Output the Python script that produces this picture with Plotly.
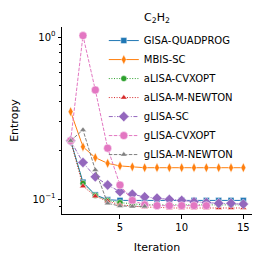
import plotly.graph_objects as go

iterations = list(range(1, 16))

gisa_quadprog = [0.229, 0.127, 0.106, 0.099, 0.098, 0.098, 0.098, 0.098, 0.098, 0.098, 0.098, 0.098, 0.098, 0.098, 0.098]
mbis_sc = [0.346, 0.210, 0.180, 0.166, 0.160, 0.158, 0.156, 0.156, 0.156, 0.156, 0.156, 0.156, 0.156, 0.156, 0.156]
alisa_cvxopt = [0.229, 0.125, 0.105, 0.098, 0.095, 0.093, 0.092, 0.092, 0.092, 0.092, 0.092, 0.092, 0.092, 0.092, 0.092]
alisa_m_newton = [0.229, 0.120, 0.104, 0.097, 0.092, 0.090, 0.089, 0.089, 0.088, 0.088, 0.088, 0.088, 0.088, 0.088, 0.088]
glisa_sc = [0.229, 0.168, 0.137, 0.122, 0.111, 0.107, 0.103, 0.101, 0.0994, 0.098, 0.096, 0.095, 0.094, 0.094, 0.093]
glisa_cvxopt = [0.229, 1.02, 0.471, 0.206, 0.122, 0.098, 0.092, 0.091, 0.091, 0.091, 0.091, 0.091]
glisa_m_newton = [0.229, 0.267, 0.151, 0.094, 0.0905, 0.090, 0.090]

series = [
    ("GISA-QUADPROG", gisa_quadprog, "#1f77b4", "square", "solid", 6),
    ("MBIS-SC", mbis_sc, "#ff7f0e", "diamond-tall", "solid", 7),
    ("aLISA-CVXOPT", alisa_cvxopt, "#2ca02c", "circle", "1px,1.6px", 6),
    ("aLISA-M-NEWTON", alisa_m_newton, "#d62728", "triangle-up", "1px,1.6px", 6),
    ("gLISA-SC", glisa_sc, "#9467bd", "diamond", "4px,1.6px,1px,1.6px", 8),
    ("gLISA-CVXOPT", glisa_cvxopt, "#e377c2", "circle", "3.5px,1.5px", 8),
    ("gLISA-M-NEWTON", glisa_m_newton, "#7f7f7f", "triangle-up", "3.5px,1.5px", 6),
]

fig = go.Figure()
for name, vals, color, sym, dash, size in series:
    fig.add_trace(go.Scatter(
        x=iterations[:len(vals)], y=vals, name=name, mode="lines+markers",
        line=dict(color=color, width=1, dash=dash),
        marker=dict(symbol=sym, size=size, color=color,
                    line=dict(color="rgba(255,255,255,0.6)", width=0.8)),
    ))

font = dict(family="DejaVu Sans", size=10, color="black")
fig.update_layout(
    width=262, height=262,
    margin=dict(l=62, r=10, t=27, b=48),
    plot_bgcolor="white", paper_bgcolor="white",
    font=font,
    title=dict(text="C<sub>2</sub>H<sub>2</sub>", x=0.5, xref="paper", xanchor="center",
               y=1 - 17 / 262, yanchor="middle", font=dict(family="DejaVu Sans", size=11)),
    showlegend=True,
    legend=dict(x=0.22, y=1.005, xanchor="left", yanchor="top", bgcolor="rgba(0,0,0,0)",
                font=dict(family="DejaVu Sans", size=10), itemwidth=30,
                tracegroupgap=0, maxheight=240),
)
fig.update_xaxes(
    range=[0.3, 15.7], tickvals=[5, 10, 15], ticks="outside", ticklen=3.5, tickwidth=1,
    tickcolor="black", showline=True, linecolor="black", linewidth=1, showgrid=False,
    zeroline=False, title=dict(text="Iteration", font=dict(size=11), standoff=11),
)
fig.update_yaxes(
    type="log", range=[-1.0926, 0.0617], tickvals=[0.1, 1], ticktext=["10<sup>−1</sup>", "10<sup>0</sup>"],
    ticks="outside", ticklen=3.5, tickwidth=1, tickcolor="black", showline=True, linecolor="black",
    linewidth=1, showgrid=False, zeroline=False,
    minor=dict(tickmode="array", tickvals=[0.09, 0.2, 0.3, 0.4, 0.5, 0.6, 0.7, 0.8, 0.9],
               ticks="outside", ticklen=2, tickcolor="black", tickwidth=0.8, showgrid=False),
    title=dict(text="Entropy", font=dict(size=11), standoff=11),
)
fig.write_html("out.html", config={"displayModeBar": False},
               post_script="document.body.style.margin='0';")
